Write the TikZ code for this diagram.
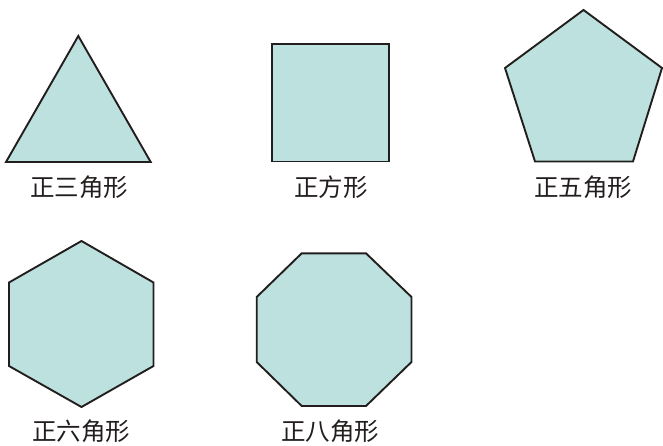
\documentclass[tikz,border=0pt]{standalone}
\usepackage{fontspec}
\newfontfamily\cjk{Noto Sans CJK SC}
\definecolor{polyfill}{RGB}{189,225,222}
\definecolor{polyline}{RGB}{35,30,30}
\begin{document}
\begin{tikzpicture}[x=1pt,y=-1pt,
  poly/.style={fill=polyfill,draw=polyline,line width=1.9pt,line join=miter},
  lbl/.style={font=\cjk\fontsize{24.5}{24.5}\selectfont,text=polyline,inner sep=0pt}]
\useasboundingbox (0,0) rectangle (663,446);
% triangle
\coordinate (t1) at (78.3,36);
\coordinate (t2) at (6,162);
\coordinate (t3) at (150.7,162);
\draw[poly] (t1) -- (t2) -- (t3) -- cycle;
\node[lbl] (lt) at (79,187) {正三角形};
% square
\coordinate (s1) at (272.3,44);
\coordinate (s2) at (389.3,161.5);
\draw[poly] (s1) rectangle (s2);
\node[lbl] (ls) at (331,187) {正方形};
% pentagon
\coordinate (p1) at (583.5,10);
\coordinate (p2) at (662,68);
\coordinate (p3) at (633,161.5);
\coordinate (p4) at (535,161.5);
\coordinate (p5) at (505,68);
\draw[poly] (p1) -- (p2) -- (p3) -- (p4) -- (p5) -- cycle;
\node[lbl] (lp) at (583,187) {正五角形};
% hexagon
\coordinate (h1) at (81.5,241);
\coordinate (h2) at (153.5,282.5);
\coordinate (h3) at (153.5,366);
\coordinate (h4) at (81.5,407);
\coordinate (h5) at (9,366);
\coordinate (h6) at (9,282.5);
\draw[poly] (h1) -- (h2) -- (h3) -- (h4) -- (h5) -- (h6) -- cycle;
\node[lbl] (lh) at (81,431) {正六角形};
% octagon
\coordinate (o1) at (301.7,253.3);
\coordinate (o2) at (366,253.3);
\coordinate (o3) at (411.5,297);
\coordinate (o4) at (411.5,362);
\coordinate (o5) at (366,406);
\coordinate (o6) at (301.7,406);
\coordinate (o7) at (256.7,362);
\coordinate (o8) at (256.7,297);
\draw[poly] (o1) -- (o2) -- (o3) -- (o4) -- (o5) -- (o6) -- (o7) -- (o8) -- cycle;
\node[lbl] (lo) at (330,431) {正八角形};
\end{tikzpicture}
\end{document}
